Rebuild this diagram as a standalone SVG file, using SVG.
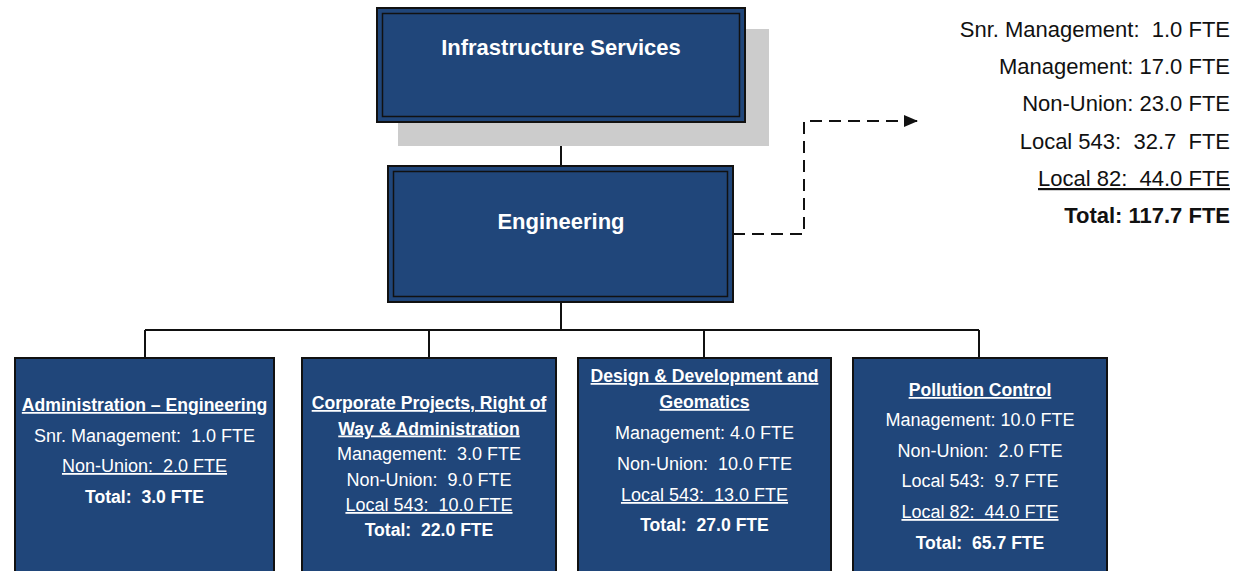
<svg xmlns="http://www.w3.org/2000/svg" width="1236" height="571" viewBox="0 0 1236 571">
  <defs>
    <style>
      text { font-family: "Liberation Sans", Arial, sans-serif; white-space: pre; }
      .box { fill: #20467a; stroke: #111; stroke-width: 2; }
      .inner { fill: none; stroke: #111; stroke-width: 1.5; }
      .t22 { font-size: 22px; font-weight: bold; fill: #fff; text-anchor: middle; }
      .w { font-size: 18px; fill: #fff; text-anchor: middle; }
      .wb { font-size: 17.6px; fill: #fff; text-anchor: middle; font-weight: bold; }
      .u { text-decoration: underline; }
      .leg { font-size: 22px; fill: #111; text-anchor: end; }
      .line { stroke: #111; stroke-width: 2; fill: none; }
      .dash { stroke: #111; stroke-width: 2; fill: none; stroke-dasharray: 12 7; }
    </style>
    <marker id="arrow" markerWidth="14" markerHeight="12" refX="13" refY="6" orient="auto" markerUnits="userSpaceOnUse">
      <path d="M0,0 L14,6 L0,12 z" fill="#111"/>
    </marker>
  </defs>
  <rect width="1236" height="571" fill="#fff"/>

  <g id="connectors">
    <line class="line" x1="561" y1="122" x2="561" y2="166"/>
    <line class="line" x1="561" y1="302" x2="561" y2="330"/>
    <line class="line" x1="145" y1="330" x2="979" y2="330"/>
    <line class="line" x1="145" y1="330" x2="145" y2="358"/>
    <line class="line" x1="429" y1="330" x2="429" y2="358"/>
    <line class="line" x1="704" y1="330" x2="704" y2="358"/>
    <line class="line" x1="979" y1="330" x2="979" y2="358"/>
    <path class="dash" d="M733,234 H804 V121 H917" marker-end="url(#arrow)"/>
  </g>

  <g id="infrastructure-services">
    <rect x="398" y="29" width="371" height="117" fill="#cccccc"/>
    <rect class="box" x="377" y="8" width="368" height="114"/>
    <rect class="inner" x="382.5" y="13.5" width="357" height="103"/>
    <text class="t22" x="561" y="55">Infrastructure Services</text>
  </g>

  <g id="engineering">
    <rect class="box" x="388" y="166" width="345" height="136"/>
    <rect class="inner" x="393.5" y="171.5" width="334" height="125"/>
    <text class="t22" x="561" y="229">Engineering</text>
  </g>

  <g id="legend">
    <text class="leg" x="1230" y="37">Snr. Management:  1.0 FTE</text>
    <text class="leg" x="1230" y="74">Management: 17.0 FTE</text>
    <text class="leg" x="1230" y="111">Non-Union: 23.0 FTE</text>
    <text class="leg" x="1230" y="149">Local 543:  32.7  FTE</text>
    <text class="leg u" x="1230" y="186">Local 82:  44.0 FTE</text>
    <text class="leg" x="1230" y="223" font-weight="bold">Total: 117.7 FTE</text>
  </g>

  <g id="administration-engineering">
    <rect class="box" x="15" y="358" width="259" height="230"/>
    <text class="wb u" x="144.5" y="411">Administration – Engineering</text>
    <text class="w" x="144.5" y="442">Snr. Management:  1.0 FTE</text>
    <text class="w u" x="144.5" y="472">Non-Union:  2.0 FTE</text>
    <text class="wb" x="144.5" y="503">Total:  3.0 FTE</text>
  </g>

  <g id="corporate-projects">
    <rect class="box" x="302" y="358" width="254" height="230"/>
    <text class="wb u" x="429" y="409">Corporate Projects, Right of</text>
    <text class="wb u" x="429" y="434.5">Way &amp; Administration</text>
    <text class="w" x="429" y="460">Management:  3.0 FTE</text>
    <text class="w" x="429" y="485.5">Non-Union:  9.0 FTE</text>
    <text class="w u" x="429" y="511">Local 543:  10.0 FTE</text>
    <text class="wb" x="429" y="536">Total:  22.0 FTE</text>
  </g>

  <g id="design-development">
    <rect class="box" x="578" y="358" width="253" height="230"/>
    <text class="wb u" x="704.5" y="382">Design &amp; Development and</text>
    <text class="wb u" x="704.5" y="408">Geomatics</text>
    <text class="w" x="704.5" y="439">Management: 4.0 FTE</text>
    <text class="w" x="704.5" y="470">Non-Union:  10.0 FTE</text>
    <text class="w u" x="704.5" y="501">Local 543:  13.0 FTE</text>
    <text class="wb" x="704.5" y="531">Total:  27.0 FTE</text>
  </g>

  <g id="pollution-control">
    <rect class="box" x="853" y="358" width="254" height="230"/>
    <text class="wb u" x="980" y="396">Pollution Control</text>
    <text class="w" x="980" y="426">Management: 10.0 FTE</text>
    <text class="w" x="980" y="457">Non-Union:  2.0 FTE</text>
    <text class="w" x="980" y="487">Local 543:  9.7 FTE</text>
    <text class="w u" x="980" y="518">Local 82:  44.0 FTE</text>
    <text class="wb" x="980" y="549">Total:  65.7 FTE</text>
  </g>
</svg>
